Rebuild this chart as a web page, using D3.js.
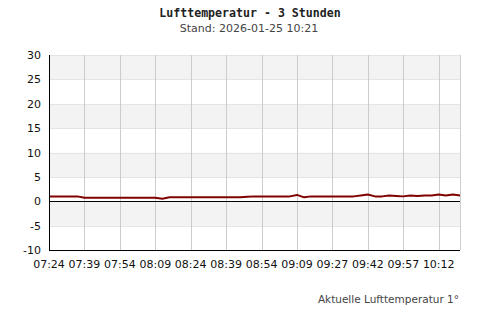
<!DOCTYPE html>
<html>
<head>
<meta charset="utf-8">
<script src="https://cdn.jsdelivr.net/npm/d3@7"></script>
<style>
body { margin: 0; background: #fff; }
text { font-family: "DejaVu Sans", sans-serif; }
</style>
</head>
<body>
<script>
// data
var times = ["07:24","07:27","07:30","07:33","07:36","07:39","07:42","07:45","07:48","07:51",
             "07:54","07:57","08:00","08:03","08:06","08:09","08:12","08:15","08:18","08:21",
             "08:24","08:27","08:30","08:33","08:36","08:39","08:42","08:45","08:48","08:51",
             "08:54","08:57","09:00","09:03","09:06","09:09","09:12","09:18","09:21","09:24",
             "09:27","09:30","09:33","09:36","09:39","09:42","09:45","09:48","09:51","09:54",
             "09:57","10:00","10:03","10:06","10:09","10:12","10:15","10:18","10:21"];
var temps = [1.0,1.0,1.0,1.0,1.0,0.7,0.7,0.7,0.7,0.7,
             0.7,0.7,0.7,0.7,0.7,0.7,0.5,0.8,0.8,0.8,
             0.8,0.8,0.8,0.8,0.8,0.8,0.8,0.8,0.9,1.0,
             1.0,1.0,1.0,1.0,1.0,1.3,0.8,1.0,1.0,1.0,
             1.0,1.0,1.0,1.0,1.2,1.4,1.0,1.0,1.2,1.1,
             1.0,1.2,1.1,1.2,1.2,1.4,1.2,1.4,1.2];
var xLabels = ["07:24","07:39","07:54","08:09","08:24","08:39","08:54","09:09","09:27","09:42","09:57","10:12"];
var yTicks = [-10,-5,0,5,10,15,20,25,30];

var margin = { top: 55, right: 40, bottom: 70, left: 49 },
    width = 500 - margin.left - margin.right,
    height = 320 - margin.top - margin.bottom;

var svg = d3.select("body").append("svg")
    .attr("width", 500)
    .attr("height", 320);

svg.append("text")
    .attr("x", 250).attr("y", 17)
    .attr("text-anchor", "middle")
    .style("font-family", "'DejaVu Sans Mono', monospace")
    .style("font-weight", "bold")
    .style("font-size", "11.6px")
    .attr("fill", "#222")
    .text("Lufttemperatur - 3 Stunden");

svg.append("text")
    .attr("x", 249).attr("y", 32)
    .attr("text-anchor", "middle")
    .style("font-size", "11px")
    .attr("fill", "#444")
    .text("Stand: 2026-01-25 10:21");

var g = svg.append("g")
    .attr("transform", "translate(" + margin.left + "," + margin.top + ")");

var x = d3.scalePoint()
    .domain(d3.range(times.length))
    .range([0, width]);

var y = d3.scaleLinear()
    .domain([-10, 30])
    .range([height, 0]);

// alternating bands
var bands = d3.range(-10, 30, 5);
g.selectAll(".band")
    .data(bands)
    .enter().append("rect")
    .attr("x", 0)
    .attr("width", width)
    .attr("y", function (d) { return y(d + 5); })
    .attr("height", function (d) { return y(d) - y(d + 5); })
    .attr("fill", function (d) { return ((d + 10) / 5) % 2 === 0 ? "#fff" : "#f3f3f3"; });

// horizontal grid
g.selectAll(".hgrid")
    .data(yTicks)
    .enter().append("line")
    .attr("x1", 0).attr("x2", width)
    .attr("y1", function (d) { return Math.round(y(d)) + 0.5; })
    .attr("y2", function (d) { return Math.round(y(d)) + 0.5; })
    .attr("stroke", "#e4e4e4");

// vertical grid at labelled times
var labelIdx = xLabels.map(function (l) { return times.indexOf(l); });
g.selectAll(".vgrid")
    .data(labelIdx.concat([times.length - 1]))
    .enter().append("line")
    .attr("x1", function (d) { return Math.round(x(d)) + 0.5; })
    .attr("x2", function (d) { return Math.round(x(d)) + 0.5; })
    .attr("y1", 0).attr("y2", height)
    .attr("stroke", "#cccccc");

// zero line
g.append("line")
    .attr("x1", 0).attr("x2", width)
    .attr("y1", Math.round(y(0)) + 0.5).attr("y2", Math.round(y(0)) + 0.5)
    .attr("stroke", "#000");

var line = d3.line()
    .x(function (d, i) { return x(i); })
    .y(function (d) { return y(d); });

g.append("path")
    .datum(temps)
    .attr("d", line)
    .attr("fill", "none")
    .attr("stroke", "#800000")
    .attr("stroke-width", 2)
    .attr("stroke-linejoin", "round");

// axes
g.append("line")
    .attr("x1", 0.5).attr("x2", 0.5)
    .attr("y1", 0).attr("y2", height)
    .attr("stroke", "#000");
g.append("line")
    .attr("x1", 0).attr("x2", width)
    .attr("y1", height + 0.5).attr("y2", height + 0.5)
    .attr("stroke", "#000");

g.selectAll(".ylab")
    .data(yTicks)
    .enter().append("text")
    .attr("x", -8)
    .attr("y", function (d) { return y(d) + 4; })
    .attr("text-anchor", "end")
    .style("font-size", "11px")
    .attr("fill", "#111")
    .text(function (d) { return d; });

g.selectAll(".xlab")
    .data(labelIdx)
    .enter().append("text")
    .attr("x", function (d) { return x(d); })
    .attr("y", height + 18)
    .attr("text-anchor", "middle")
    .style("font-size", "11px")
    .attr("fill", "#111")
    .text(function (d) { return times[d]; });

svg.append("text")
    .attr("x", 459).attr("y", 303)
    .attr("text-anchor", "end")
    .style("font-size", "10.5px")
    .attr("fill", "#444")
    .text("Aktuelle Lufttemperatur 1°");
</script>
</body>
</html>
